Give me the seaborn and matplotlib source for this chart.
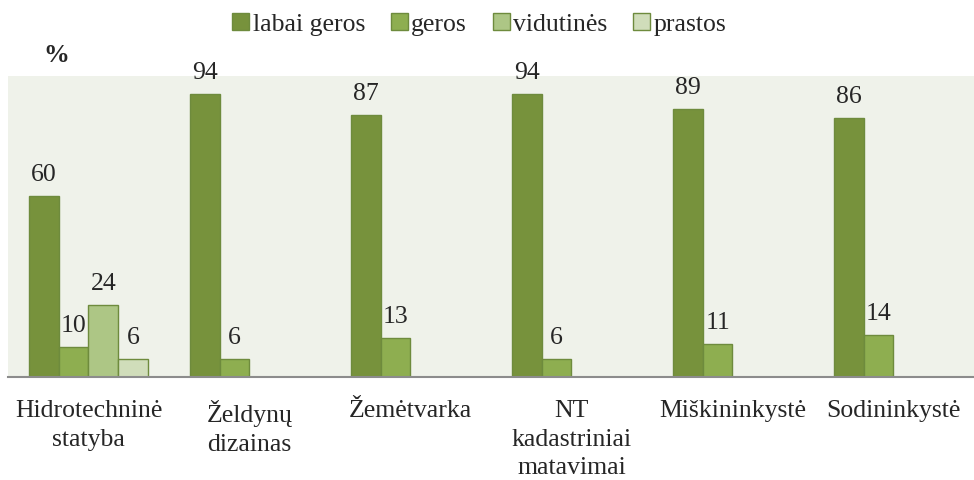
import pandas as pd
import numpy as np
import matplotlib
matplotlib.use("Agg")
import matplotlib.pyplot as plt
import seaborn as sns

# Data
programs = ["Hidrotechninė\nstatyba", "Želdynų\ndizainas", "Žemėtvarka",
            "NT\nkadastriniai\nmatavimai", "Miškininkystė", "Sodininkystė"]
ratings = ["labai geros", "geros", "vidutinės", "prastos"]
labai_geros = [60, 94, 87, 94, 89, 86]
geros = [10, 6, 13, 6, 11, 14]
vidutines = [24, np.nan, np.nan, np.nan, np.nan, np.nan]
prastos = [6, np.nan, np.nan, np.nan, np.nan, np.nan]

colors = ["#77923C", "#8EAE50", "#ADC685", "#D0DDBA"]

df = pd.DataFrame({"programa": programs, "labai geros": labai_geros, "geros": geros,
                   "vidutinės": vidutines, "prastos": prastos})
long = df.melt(id_vars="programa", var_name="vertinimas", value_name="proc")

sns.set_style("white")
plt.rcParams["font.family"] = ["Liberation Serif", "DejaVu Serif"]
fs = 18.5

fig = plt.figure(figsize=(9.74, 4.81), dpi=100)
ax = fig.add_axes([0.0082, 0.214, 0.9918, 0.626])
ax.set_facecolor("#EFF2EA")

sns.barplot(data=long, x="programa", y="proc", hue="vertinimas", hue_order=ratings,
            order=programs, palette=colors, width=0.735, edgecolor="#6E8B3D",
            linewidth=1.0, saturation=1, ax=ax)

for cont in ax.containers:
    ax.bar_label(cont, fmt="%.0f", fontsize=fs, padding=8)

ax.set_ylim(0, 100)
ax.set_xlim(-0.5, len(programs) - 0.5)
ax.set_yticks([])
ax.set_xlabel("")
ax.set_ylabel("")
for s in ["top", "left", "right"]:
    ax.spines[s].set_visible(False)
ax.spines["bottom"].set_color("#8C8C8C")
ax.spines["bottom"].set_linewidth(1.5)
ax.tick_params(axis="x", length=0, pad=16, labelsize=fs)
for t in ax.get_xticklabels():
    t.set_linespacing(1.38)

ax.legend(loc="center", bbox_to_anchor=(0.488, 1.0 + (77 - 25) / (0.626 * 481)), ncol=4,
          frameon=False, fontsize=fs, handlelength=0.65, handleheight=0.65,
          handletextpad=0.15, columnspacing=1.0, borderaxespad=0, borderpad=0)

fig.text(0.058, 0.885, "%", fontsize=fs, fontweight="bold", ha="center", va="center")

fig.savefig("out.png", dpi=100)
